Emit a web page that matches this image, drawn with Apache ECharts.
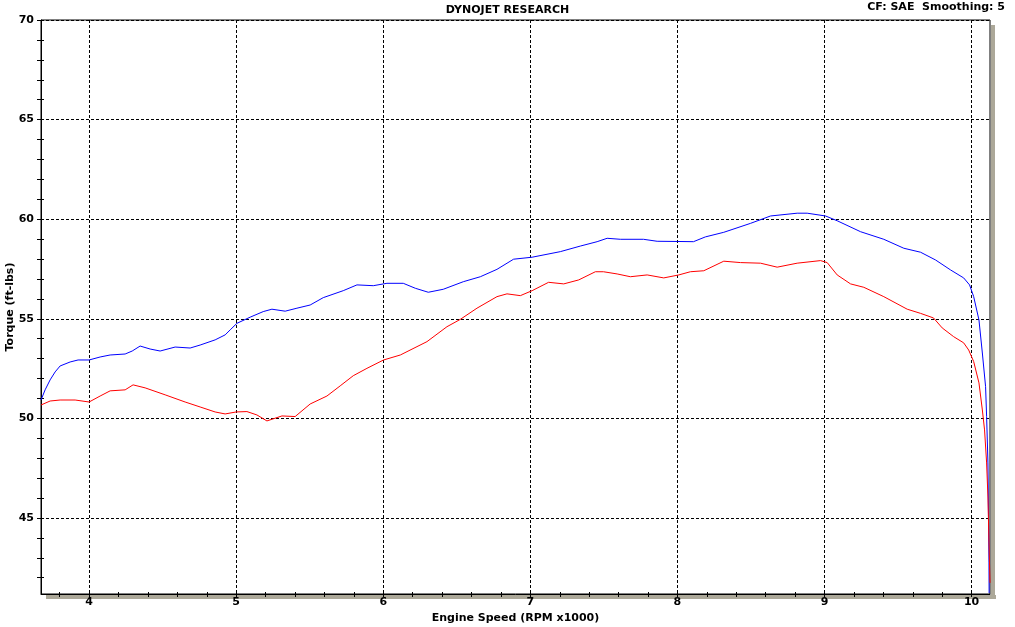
<!DOCTYPE html>
<html>
<head>
<meta charset="utf-8">
<script src="https://cdn.jsdelivr.net/npm/echarts@6/dist/echarts.min.js"></script>
<style>
html,body{margin:0;padding:0;background:#fff;}
#c{width:1015px;height:627px;}
</style>
</head>
<body>
<div id="c"></div>
<script>
// Blue torque curve (RPM x1000, ft-lbs)
var blueRpm = [3.673,3.701,3.735,3.769,3.803,3.871,3.925,4.0,4.075,4.143,4.245,4.293,4.347,4.415,4.483,4.585,4.687,4.755,4.857,4.925,4.959,5.005,5.095,5.184,5.243,5.333,5.413,5.503,5.592,5.728,5.821,5.932,6.025,6.136,6.218,6.306,6.408,6.544,6.660,6.773,6.886,7.012,7.204,7.340,7.454,7.522,7.612,7.769,7.862,8.0,8.109,8.190,8.315,8.497,8.633,8.814,8.882,9.007,9.086,9.245,9.403,9.539,9.653,9.755,9.857,9.946,9.986,10.014,10.050,10.073,10.095,10.102,10.111,10.118,10.119];
var blueTorque = [50.92,51.43,51.93,52.33,52.63,52.83,52.93,52.93,53.08,53.18,53.23,53.38,53.63,53.48,53.38,53.58,53.53,53.68,53.94,54.19,54.44,54.77,55.08,55.36,55.48,55.38,55.53,55.69,56.06,56.41,56.70,56.66,56.78,56.78,56.53,56.33,56.48,56.86,57.11,57.48,57.99,58.09,58.37,58.65,58.87,59.04,58.99,58.99,58.89,58.88,58.87,59.11,59.34,59.79,60.16,60.30,60.30,60.16,59.92,59.37,58.99,58.54,58.34,57.95,57.45,57.05,56.70,56.11,54.94,53.28,51.59,50.09,47.76,42.74,41.23];
// Red torque curve
var redRpm = [3.673,3.735,3.803,3.905,4.0,4.075,4.143,4.245,4.299,4.381,4.517,4.653,4.755,4.857,4.925,5.0,5.073,5.141,5.209,5.311,5.401,5.503,5.617,5.707,5.796,5.889,6.002,6.116,6.297,6.433,6.524,6.637,6.773,6.841,6.932,7.012,7.124,7.227,7.329,7.442,7.497,7.590,7.680,7.794,7.907,8.009,8.088,8.179,8.315,8.429,8.565,8.678,8.814,8.973,9.018,9.086,9.177,9.267,9.403,9.562,9.653,9.741,9.800,9.878,9.946,9.980,10.014,10.050,10.073,10.088,10.102,10.111,10.118,10.125];
var redTorque = [50.67,50.87,50.92,50.92,50.82,51.12,51.38,51.43,51.68,51.53,51.18,50.82,50.57,50.32,50.22,50.32,50.34,50.17,49.87,50.12,50.09,50.72,51.12,51.63,52.14,52.51,52.93,53.18,53.85,54.60,54.97,55.53,56.11,56.25,56.16,56.41,56.83,56.75,56.95,57.36,57.36,57.25,57.11,57.20,57.05,57.20,57.36,57.41,57.89,57.82,57.79,57.59,57.79,57.92,57.82,57.20,56.75,56.58,56.11,55.48,55.27,55.04,54.54,54.10,53.79,53.43,52.85,51.78,50.42,49.42,47.76,46.05,43.75,41.74];

// Tick values
var xMajorTicks = [4,5,6,7,8,9,10];
var xMinorTicks = [3.8,4.0,4.2,4.4,4.6,4.8,5.0,5.2,5.4,5.6,5.8,6.0,6.2,6.4,6.6,6.8,7.0,7.2,7.4,7.6,7.8,8.0,8.2,8.4,8.6,8.8,9.0,9.2,9.4,9.6,9.8,10.0];
var yMajorTicks = [45,50,55,60,65,70];
var yMinorTicks = [42,43,44,45,46,47,48,49,50,51,52,53,54,55,56,57,58,59,60,61,62,63,64,65,66,67,68,69,70];

var titleText = 'DYNOJET RESEARCH';
var infoText = 'CF: SAE  Smoothing: 5';
var xName = 'Engine Speed (RPM x1000)';
var yName = 'Torque (ft-lbs)';

function pairs(xs, ys){ var o=[]; for(var i=0;i<xs.length;i++) o.push([xs[i], ys[i]]); return o; }

var FONT = 'DejaVu Sans';
var X_MIN = 3.673, X_MAX = 10.125, Y_MIN = 41.18, Y_MAX = 70;

var chart = echarts.init(document.getElementById('c'), null, {renderer:'canvas'});
function xTickAxis(inside){
  return {type:'value', min:X_MIN, max:X_MAX, position:'bottom',
    axisLine:{show:false}, axisLabel:{show:false}, splitLine:{show:false},
    axisTick:{show:true, inside:inside, length:inside?2:3, customValues:xMinorTicks, lineStyle:{color:'#000', width:1}}};
}
function yTickAxis(inside){
  return {type:'value', min:Y_MIN, max:Y_MAX, position:'left',
    axisLine:{show:false}, axisLabel:{show:false}, splitLine:{show:false},
    axisTick:{show:true, inside:inside, length:inside?3:4, customValues:yMinorTicks, lineStyle:{color:'#000', width:1}}};
}
chart.setOption({
  animation:false,
  backgroundColor:'#fff',
  grid:{left:41, top:20, right:25, bottom:33, containLabel:false, outerBoundsMode:'none', show:true, borderColor:'#000', borderWidth:1, backgroundColor:'transparent'},
  graphic:[
    {type:'rect', z:-10, shape:{x:46, y:595, width:950, height:4}, style:{fill:'#aca899'}},
    {type:'rect', z:-10, shape:{x:991, y:25, width:4, height:574}, style:{fill:'#aca899'}},
    {type:'text', left:'center', top:5, style:{text:titleText, font:'bold 11px "'+FONT+'"', fill:'#000'}},
    {type:'text', right:10, top:2, style:{text:infoText, font:'bold 11px "'+FONT+'"', fill:'#000'}},
    {type:'text', x:10, y:307, rotation:Math.PI/2, style:{text:yName, font:'bold 11px "'+FONT+'"', fill:'#000', align:'center', verticalAlign:'middle'}}
  ],
  xAxis:[
    {type:'value', min:X_MIN, max:X_MAX, position:'bottom',
      name:xName, nameLocation:'middle', nameGap:13,
      nameTextStyle:{fontFamily:FONT, fontWeight:'bold', fontSize:11, color:'#000'},
      axisLine:{show:true, onZero:false, lineStyle:{color:'#000', width:1}},
      axisTick:{show:false, customValues:xMajorTicks},
      axisLabel:{show:true, customValues:xMajorTicks, margin:3, fontFamily:FONT, fontWeight:'bold', fontSize:11, color:'#000'},
      splitLine:{show:true, lineStyle:{color:'#000', width:1, type:[3,2]}}},
    xTickAxis(true), xTickAxis(false)
  ],
  yAxis:[
    {type:'value', min:Y_MIN, max:Y_MAX, position:'left',
      axisLine:{show:true, onZero:false, lineStyle:{color:'#000', width:1}},
      axisTick:{show:false, customValues:yMajorTicks},
      axisLabel:{show:true, customValues:yMajorTicks, margin:7, fontFamily:FONT, fontWeight:'bold', fontSize:11, color:'#000'},
      splitLine:{show:true, lineStyle:{color:'#000', width:1, type:[3,2]}}},
    yTickAxis(true), yTickAxis(false)
  ],
  series:[
    {type:'line', xAxisIndex:0, yAxisIndex:0, data:pairs(blueRpm, blueTorque), showSymbol:false, symbol:'none', smooth:false,
      lineStyle:{color:'#0000ff', width:1}, clip:true},
    {type:'line', xAxisIndex:0, yAxisIndex:0, data:pairs(redRpm, redTorque), showSymbol:false, symbol:'none', smooth:false,
      lineStyle:{color:'#ff0000', width:1}, clip:true}
  ]
});
</script>
</body>
</html>
